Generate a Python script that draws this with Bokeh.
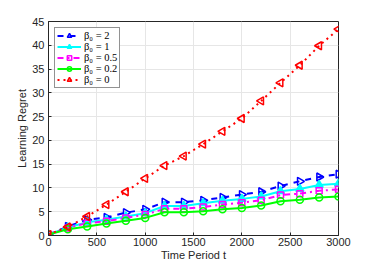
import math
from bokeh.plotting import figure
from bokeh.models import Range1d, FixedTicker
from bokeh.embed import file_html
from bokeh.resources import INLINE

t = [0, 200, 400, 600, 800, 1000, 1200, 1400, 1600, 1800, 2000, 2200, 2400, 2600, 2800, 3000]
beta2 = [0.2, 1.9, 3.3, 3.8, 4.8, 5.5, 7.0, 7.0, 7.4, 8.0, 8.6, 9.2, 10.4, 11.4, 12.3, 12.9]
beta1 = [0.2, 1.7, 2.8, 3.3, 4.0, 4.7, 6.2, 6.2, 6.8, 7.3, 7.7, 8.2, 9.3, 9.8, 10.6, 10.9]
beta05 = [0.2, 1.6, 2.6, 3.0, 3.7, 4.4, 5.6, 5.6, 6.0, 6.5, 6.9, 7.4, 8.5, 8.8, 9.4, 9.7]
beta02 = [0.2, 1.3, 1.9, 2.5, 3.1, 3.7, 4.9, 4.9, 5.1, 5.5, 5.8, 6.3, 7.2, 7.5, 8.0, 8.2]
beta0 = [0.2, 1.8, 4.0, 6.5, 9.2, 12.0, 14.7, 16.7, 19.2, 21.9, 24.6, 28.3, 32.1, 35.8, 39.9, 43.4]

labels = ["β₀ = 2", "β₀ = 1", "β₀ = 0.5", "β₀ = 0.2", "β₀ = 0"]
x_ticks = [0, 500, 1000, 1500, 2000, 2500, 3000]
y_ticks = [0, 5, 10, 15, 20, 25, 30, 35, 40, 45]

p = figure(width=358, height=263, output_backend="svg", toolbar_location=None,
           x_range=Range1d(0, 3000), y_range=Range1d(0, 45),
           min_border_left=48, min_border_right=20, min_border_top=21, min_border_bottom=10)

axc = "#262626"
for ax in (p.xaxis[0], p.yaxis[0]):
    ax.axis_line_color = axc
    ax.major_tick_line_color = axc
    ax.major_tick_in = 3
    ax.major_tick_out = 0
    ax.minor_tick_line_color = None
    ax.major_label_text_font = "Liberation Sans"
    ax.major_label_text_font_size = "11px"
    ax.major_label_text_color = axc
    ax.axis_label_text_font = "Liberation Sans"
    ax.axis_label_text_font_size = "11px"
    ax.axis_label_text_font_style = "normal"
    ax.axis_label_text_color = axc
p.xaxis.axis_label_standoff = 0
p.yaxis.axis_label_standoff = 1
p.xaxis.major_label_standoff = 2
p.yaxis.major_label_standoff = 4
p.xaxis.ticker = FixedTicker(ticks=x_ticks)
p.yaxis.ticker = FixedTicker(ticks=y_ticks)
p.xaxis.axis_label = "Time Period t"
p.yaxis.axis_label = "Learning Regret"
p.outline_line_color = axc
p.outline_line_alpha = 1.0
p.grid.grid_line_color = "#e6e6e6"
p.grid.grid_line_width = 1

series = [
    (beta2, "#0000ff", "dashed", "triangle", -math.pi / 2, None),
    (beta1, "#00ffff", "solid", "triangle", 0.0, "#00ffff"),
    (beta05, "#ff00ff", "dashdot", "square", 0.0, None),
    (beta02, "#00ff00", "solid", "circle", 0.0, None),
    (beta0, "#ff0000", "dotted", "triangle", math.pi / 2, None),
]
sizes = {"triangle": 8, "square": 6, "circle": 7}
for (ys, col, dash, mk, ang, fill), lab in zip(series, labels):
    p.line(t, ys, line_color=col, line_width=2, line_dash=dash, legend_label=lab)
    p.scatter(t, ys, marker=mk, size=sizes[mk], angle=ang, line_color=col, line_width=1.5,
              fill_color=fill, legend_label=lab)

lg = p.legend[0]
lg.location = "top_left"
lg.margin = 6
lg.padding = 2
lg.spacing = 0
lg.label_height = 11
lg.glyph_height = 11
lg.glyph_width = 24
lg.label_standoff = 3
lg.label_text_font = "Liberation Serif"
lg.label_text_font_size = "10.5px"
lg.label_text_line_height = 1.0
lg.label_text_color = "#000000"
lg.border_line_color = "#262626"
lg.border_line_width = 1
lg.background_fill_alpha = 1.0

open("out.html", "w").write(file_html(p, INLINE))
